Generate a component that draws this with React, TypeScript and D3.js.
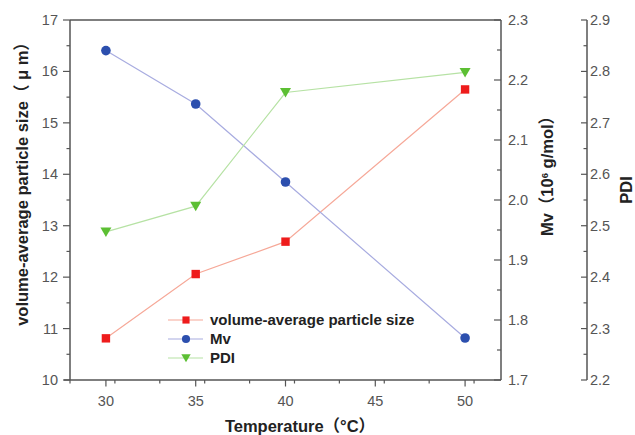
import React from "react";
import * as d3 from "d3";

const temperatures = [30, 35, 40, 50];
const particleSize = [10.81, 12.06, 12.69, 15.65];
const mv = [2.249, 2.16, 2.03, 1.77];
const pdi = [2.488, 2.538, 2.759, 2.798];
const xTicks = [30, 35, 40, 45, 50];
const leftTicks = [10, 11, 12, 13, 14, 15, 16, 17];
const mvTicks = [1.7, 1.8, 1.9, 2.0, 2.1, 2.2, 2.3];
const pdiTicks = [2.2, 2.3, 2.4, 2.5, 2.6, 2.7, 2.8, 2.9];
const legendLabels = ["volume-average particle size", "Mv", "PDI"];

const W = 635, H = 435;
const L = 70, R = 501, T = 20, B = 380;
const PDI_X = 587;
const axisColor = "#555";
const textColor = "#555";
const titleColor = "#222";
const font = "'Liberation Sans', Arial, 'Noto Sans CJK SC', sans-serif";
const TICK_FS = 14.5;
const TITLE_FS = 16.5;

const colors = {
  red: { marker: "#ee1c1c", line: "#f6a898" },
  blue: { marker: "#2c4fae", line: "#a8ace0" },
  green: { marker: "#5cbf33", line: "#b6e2a4" },
};

function Marker({ type, x, y, color, s = 1 }: { type: string; x: number; y: number; color: string; s?: number }) {
  if (type === "square") return <rect x={x - 4.2 * s} y={y - 4.2 * s} width={8.4 * s} height={8.4 * s} fill={color} />;
  if (type === "circle") return <circle cx={x} cy={y} r={4.8 * s} fill={color} />;
  const p = d3.path();
  p.moveTo(x - 5.5 * s, y - 4.5 * s);
  p.lineTo(x + 5.5 * s, y - 4.5 * s);
  p.lineTo(x, y + 5 * s);
  p.closePath();
  return <path d={p.toString()} fill={color} />;
}

export default function App() {
  const x = d3.scaleLinear().domain([28, 52]).range([L, R]);
  const yL = d3.scaleLinear().domain([10, 17]).range([B, T]);
  const yM = d3.scaleLinear().domain([1.7, 2.3]).range([B, T]);
  const yP = d3.scaleLinear().domain([2.2, 2.9]).range([B, T]);

  const line = (ys: number[], sc: d3.ScaleLinear<number, number>) =>
    d3.line<number>().x((_, i) => x(temperatures[i])).y((v) => sc(v))(ys) as string;

  const series = [
    { vals: particleSize, sc: yL, type: "square", c: colors.red },
    { vals: mv, sc: yM, type: "circle", c: colors.blue },
    { vals: pdi, sc: yP, type: "triangle", c: colors.green },
  ];

  const xMinor = d3.range(28, 52.01, 2.5).filter((v) => !xTicks.includes(v));
  const leftMinor = d3.range(10.5, 17, 1);
  const mvMinor = d3.range(1.75, 2.3, 0.1);
  const pdiMinor = d3.range(2.25, 2.9, 0.1);

  return (
    <svg width={W} height={H} style={{ position: "absolute", left: 0, top: 0, background: "#fff" }} fontFamily={font}>
      <rect width={W} height={H} fill="#fff" />
      {/* frame */}
      <line x1={L} x2={R} y1={T} y2={T} stroke={axisColor} strokeWidth={1.5} />
      <line x1={L - 6} x2={R} y1={B} y2={B} stroke={axisColor} strokeWidth={1.5} />
      <line x1={L} x2={L} y1={T} y2={B} stroke={axisColor} strokeWidth={1.5} />
      <line x1={R} x2={R} y1={T} y2={B} stroke={axisColor} strokeWidth={1.5} />
      {/* x ticks */}
      {xTicks.map((t) => (
        <g key={t}>
          <line x1={x(t)} x2={x(t)} y1={B} y2={B + 6.5} stroke={axisColor} strokeWidth={1.2} />
          <text x={x(t)} y={406} textAnchor="middle" fontSize={TICK_FS} fill={textColor}>{t}</text>
        </g>
      ))}
      {xMinor.map((t) => (
        <line key={t} x1={x(t)} x2={x(t)} y1={B} y2={B + 3.5} stroke={axisColor} strokeWidth={1.2} />
      ))}
      {/* left ticks */}
      {leftTicks.map((t) => (
        <g key={t}>
          <line x1={L - 7} x2={L} y1={yL(t)} y2={yL(t)} stroke={axisColor} strokeWidth={1.2} />
          <text x={58} y={yL(t) + 5} textAnchor="end" fontSize={TICK_FS} fill={textColor}>{t}</text>
        </g>
      ))}
      {leftMinor.map((t) => (
        <line key={t} x1={L - 3.5} x2={L} y1={yL(t)} y2={yL(t)} stroke={axisColor} strokeWidth={1.2} />
      ))}
      {/* Mv ticks (inward) */}
      {mvTicks.map((t) => (
        <g key={t}>
          <line x1={R - 7} x2={R} y1={yM(t)} y2={yM(t)} stroke={axisColor} strokeWidth={1.2} />
          <text x={508} y={yM(t) + 5} fontSize={TICK_FS} fill={textColor}>{t.toFixed(1)}</text>
        </g>
      ))}
      {mvMinor.map((t) => (
        <line key={t} x1={R - 4} x2={R} y1={yM(t)} y2={yM(t)} stroke={axisColor} strokeWidth={1.2} />
      ))}
      {/* PDI axis */}
      <line x1={PDI_X} x2={PDI_X} y1={T} y2={B} stroke={axisColor} strokeWidth={1.5} />
      {pdiTicks.map((t) => (
        <g key={t}>
          <line x1={PDI_X - 6} x2={PDI_X} y1={yP(t)} y2={yP(t)} stroke={axisColor} strokeWidth={1.2} />
          <text x={590} y={yP(t) + 5} fontSize={TICK_FS} fill={textColor}>{t.toFixed(1)}</text>
        </g>
      ))}
      {pdiMinor.map((t) => (
        <line key={t} x1={PDI_X - 3.5} x2={PDI_X} y1={yP(t)} y2={yP(t)} stroke={axisColor} strokeWidth={1.2} />
      ))}
      {/* series */}
      {series.map((s, k) => (
        <g key={k}>
          <path d={line(s.vals, s.sc)} fill="none" stroke={s.c.line} strokeWidth={1.2} />
          {s.vals.map((v, i) => (
            <Marker key={i} type={s.type} x={x(temperatures[i])} y={s.sc(v)} color={s.c.marker} />
          ))}
        </g>
      ))}
      {/* legend */}
      {series.map((s, k) => {
        const ly = 320 + k * 19;
        return (
          <g key={k}>
            <line x1={168} x2={203} y1={ly} y2={ly} stroke={s.c.line} strokeWidth={1.2} />
            <Marker type={s.type} x={186} y={ly} color={s.c.marker} s={0.85} />
            <text x={210} y={ly + 5} fontSize={15} fontWeight="bold" fill={titleColor}>{legendLabels[k]}</text>
          </g>
        );
      })}
      {/* titles */}
      <text x={300} y={432} textAnchor="middle" fontSize={TITLE_FS} fontWeight="bold" fill={titleColor}>Temperature（°C）</text>
      <text transform="translate(28,180) rotate(-90)" textAnchor="middle" fontSize={TITLE_FS} fontWeight="bold" fill={titleColor}>volume-average particle size（ μ m）</text>
      <text transform="translate(553,172) rotate(-90)" textAnchor="middle" fontSize={TITLE_FS} fontWeight="bold" fill={titleColor}>
        Mv（10<tspan dy={-5} fontSize={9.5}>6</tspan><tspan dy={5}> g/mol）</tspan>
      </text>
      <text transform="translate(632,190) rotate(-90)" textAnchor="middle" fontSize={TITLE_FS} fontWeight="bold" fill={titleColor}>PDI</text>
    </svg>
  );
}
